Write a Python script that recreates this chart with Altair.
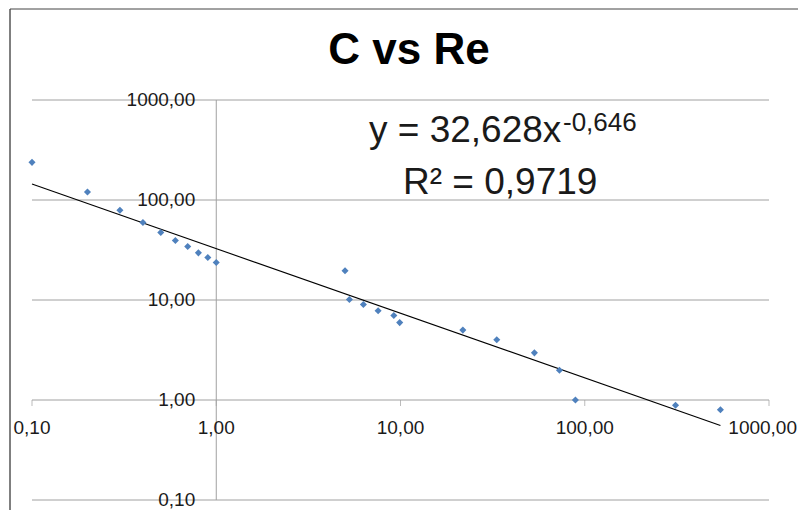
import altair as alt
import pandas as pd

# ---- data ----
re_vals = [0.1, 0.2, 0.3, 0.4, 0.5, 0.6, 0.7, 0.8, 0.9, 1.0,
           5.0, 5.28, 6.29, 7.56, 9.2, 9.9, 21.8, 33.3, 53.3, 72.9, 89.0, 311.0, 545.0]
c_vals = [238.0, 120.0, 79.0, 59.5, 47.3, 39.3, 34.3, 29.6, 26.6, 23.7,
          19.6, 10.1, 9.0, 7.8, 7.0, 5.94, 5.0, 4.0, 2.96, 1.98, 1.0, 0.887, 0.80]
tick_vals = [0.1, 1, 10, 100, 1000]
tick_labels = ["0,10", "1,00", "10,00", "100,00", "1000,00"]
coef = 32.628
expo = -0.646
eq_main = "y = 32,628x"
eq_sup = "-0,646"
r2_text = "R\u00b2 = 0,9719"
title_text = "C vs Re"

W, H = 737, 400
PAD_L, PAD_R, PAD_T, PAD_B = 24, 29, 92, 10
FONT = "Liberation Sans"
GRID = "#a0a0a0"
TXT = "#1a1a1a"

xs = alt.Scale(type="log", domain=[0.1, 1000], nice=False)
ys = alt.Scale(type="log", domain=[0.1, 1000], nice=False)

pts = pd.DataFrame({"Re": re_vals, "C": c_vals})
ticks = pd.DataFrame({"v": tick_vals, "lab": tick_labels})
ticks["one"] = 1.0
ticks["lo"] = min(tick_vals)
ticks["hi"] = max(tick_vals)
trend = pd.DataFrame({"Re": [min(re_vals), max(re_vals)]})
trend["C"] = coef * trend["Re"] ** expo
yaxis_df = pd.DataFrame({"x": [1.0], "y1": [min(tick_vals)], "y2": [max(tick_vals)]})
one = pd.DataFrame({"a": [0]})

grid = alt.Chart(ticks).mark_rule(color=GRID, strokeWidth=1).encode(
    y=alt.Y("v:Q", scale=ys, axis=None),
    x=alt.X("lo:Q", scale=xs, axis=None),
    x2="hi:Q",
)

yaxis_line = alt.Chart(yaxis_df).mark_rule(color=GRID, strokeWidth=1).encode(
    x=alt.X("x:Q", scale=xs, axis=None),
    y=alt.Y("y1:Q", scale=ys, axis=None),
    y2="y2:Q",
)

xticks = alt.Chart(ticks).mark_tick(orient="vertical", size=6, thickness=1,
                                    yOffset=3, color=GRID).encode(
    x=alt.X("v:Q", scale=xs, axis=None),
    y=alt.Y("one:Q", scale=ys, axis=None),
)

last_tick = max(tick_vals)

xlabels = alt.Chart(ticks).transform_filter(
    alt.datum.v < last_tick
).mark_text(font=FONT, fontSize=19, color=TXT,
            baseline="alphabetic", align="center", dy=33.5).encode(
    x=alt.X("v:Q", scale=xs, axis=None),
    y=alt.Y("one:Q", scale=ys, axis=None),
    text="lab:N",
)

# the last x label would run past the right edge: keep it inside the chart
xlabel_last = alt.Chart(ticks).transform_filter(
    alt.datum.v >= last_tick
).mark_text(font=FONT, fontSize=19, color=TXT,
            baseline="alphabetic", align="right", dx=PAD_R - 1, dy=33.5).encode(
    x=alt.X("v:Q", scale=xs, axis=None),
    y=alt.Y("one:Q", scale=ys, axis=None),
    text="lab:N",
)

ylabels = alt.Chart(ticks).mark_text(font=FONT, fontSize=19, color=TXT,
                                     baseline="alphabetic", align="right",
                                     dx=-21, dy=6.3).encode(
    x=alt.X("one:Q", scale=xs, axis=None),
    y=alt.Y("v:Q", scale=ys, axis=None),
    text="lab:N",
)

trend_line = alt.Chart(trend).mark_line(color="#000000", strokeWidth=1.1).encode(
    x=alt.X("Re:Q", scale=xs, axis=None),
    y=alt.Y("C:Q", scale=ys, axis=None),
)

points = alt.Chart(pts).mark_point(shape="diamond", filled=True, size=50,
                                   color="#4F81BD", opacity=1).encode(
    x=alt.X("Re:Q", scale=xs, axis=None),
    y=alt.Y("C:Q", scale=ys, axis=None),
)

title = alt.Chart(one).mark_text(text=title_text, font=FONT, fontSize=44,
                                 fontWeight="bold", color="#000000",
                                 align="center", baseline="alphabetic").encode(
    x=alt.value(377), y=alt.value(-36))

eq1 = alt.Chart(one).mark_text(text=eq_main, font=FONT, fontSize=37, color=TXT,
                               align="left", baseline="alphabetic").encode(
    x=alt.value(337), y=alt.value(41.5))
eq1s = alt.Chart(one).mark_text(text=eq_sup, font=FONT, fontSize=26, color=TXT,
                                align="left", baseline="alphabetic").encode(
    x=alt.value(531), y=alt.value(30.5))
eq2 = alt.Chart(one).mark_text(text=r2_text, font=FONT, fontSize=37, color=TXT,
                               align="left", baseline="alphabetic").encode(
    x=alt.value(371), y=alt.value(94))

frame_left = alt.Chart(one).mark_rule(color="#000000", strokeWidth=1).encode(
    x=alt.value(-22), y=alt.value(-91), y2=alt.value(430))
frame_top = alt.Chart(one).mark_rule(color="#444444", strokeWidth=1).encode(
    x=alt.value(-22), x2=alt.value(790), y=alt.value(-91))

chart = alt.layer(
    grid, yaxis_line, xticks, xlabels, xlabel_last, ylabels, trend_line, points,
    title, eq1, eq1s, eq2, frame_left, frame_top,
).properties(
    width=W, height=H,
    padding={"left": PAD_L, "top": PAD_T, "right": PAD_R, "bottom": PAD_B},
    autosize="none",
    background="white",
).configure_view(stroke=None)

chart.save("out.html", embed_options={"renderer": "svg", "actions": False})
